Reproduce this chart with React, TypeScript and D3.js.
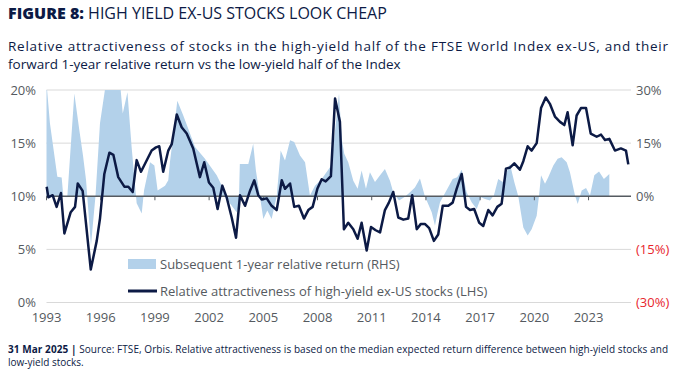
import * as d3 from 'd3';

const W = 678;
const H = 374;

// Relative attractiveness of high-yield ex-US stocks (LHS, %)
const attractYears = [
  1993.01, 1993.1, 1993.34, 1993.56, 1993.8, 1993.99, 1994.34, 1994.58, 1994.73, 1995.0,
  1995.45, 1995.78, 1995.96, 1996.2, 1996.48, 1996.7, 1996.97, 1997.31, 1997.53, 1997.77,
  1997.99, 1998.23, 1998.82, 1999.06, 1999.24, 1999.46, 1999.74, 1999.93, 2000.21, 2000.48,
  2000.76, 2001.12, 2001.49, 2001.73, 2001.99, 2002.23, 2002.47, 2002.73, 2002.97, 2003.25,
  2003.49, 2003.71, 2003.99, 2004.26, 2004.5, 2004.72, 2004.91, 2005.19, 2005.46, 2005.74,
  2006.02, 2006.2, 2006.48, 2006.71, 2006.97, 2007.25, 2007.49, 2007.73, 2007.99, 2008.23,
  2008.45, 2008.74, 2008.97, 2009.24, 2009.46, 2009.7, 2009.98, 2010.22, 2010.44, 2010.72,
  2010.96, 2011.22, 2011.46, 2011.73, 2011.95, 2012.19, 2012.47, 2012.75, 2013.02, 2013.24,
  2013.49, 2013.72, 2013.94, 2014.18, 2014.44, 2014.68, 2014.93, 2015.24, 2015.48, 2015.7,
  2015.98, 2016.22, 2016.44, 2016.67, 2016.95, 2017.17, 2017.45, 2017.69, 2017.95, 2018.19,
  2018.43, 2018.65, 2018.89, 2019.2, 2019.39, 2019.63, 2019.85, 2020.13, 2020.37, 2020.63,
  2020.86, 2021.14, 2021.42, 2021.66, 2021.84, 2022.12, 2022.34, 2022.58, 2022.86, 2023.12,
  2023.45, 2023.69, 2023.91, 2024.15, 2024.46, 2024.79, 2025.07, 2025.2,
];
const attractValues = [
  10.9, 9.9, 10.1, 9.0, 10.3, 6.5, 8.5, 9.0, 11.2, 10.5,
  3.1, 5.8, 7.9, 12.1, 14.1, 13.9, 11.8, 10.9, 10.9, 10.4,
  13.4, 12.3, 14.3, 14.6, 14.7, 12.3, 14.3, 14.9, 17.7, 16.5,
  15.9, 14.5, 11.8, 13.2, 11.3, 10.8, 8.8, 11.0, 9.9, 8.0,
  6.1, 10.1, 9.1, 10.5, 11.5, 10.1, 9.7, 9.8, 9.1, 8.7,
  11.5, 10.7, 11.2, 9.0, 9.1, 7.9, 8.7, 9.0, 10.7, 11.6,
  11.4, 11.9, 19.2, 17.0, 6.9, 7.5, 6.9, 6.0, 7.5, 4.9,
  7.1, 6.8, 6.6, 8.7, 9.4, 10.4, 8.0, 7.8, 7.9, 10.1,
  6.9, 7.4, 7.4, 7.0, 5.8, 6.4, 9.1, 9.1, 9.4, 10.7,
  12.1, 9.0, 8.7, 8.8, 7.5, 7.2, 8.7, 8.2, 9.0, 9.3,
  12.6, 12.7, 13.1, 12.5, 13.3, 14.7, 14.3, 15.0, 18.3, 19.3,
  18.7, 17.5, 17.0, 16.7, 17.9, 14.8, 17.6, 18.3, 18.3, 15.9,
  15.6, 15.8, 15.3, 15.4, 14.3, 14.5, 14.3, 13.0,
];

// Subsequent 1-year relative return (RHS, %)
const returnYears = [
  1993.0, 1993.19, 1993.6, 1993.84, 1993.93, 1994.15, 1994.54, 1994.82, 1995.02, 1995.19,
  1995.46, 1995.71, 1995.96, 1996.29, 1997.07, 1997.22, 1997.48, 1997.71, 1997.99, 1998.27,
  1998.4, 1998.73, 1998.97, 1999.15, 1999.56, 1999.74, 1999.83, 2000.07, 2000.24, 2000.57,
  2000.85, 2001.22, 2001.77, 2002.42, 2002.88, 2003.15, 2003.52, 2003.64, 2003.7, 2004.17,
  2004.44, 2004.59, 2004.81, 2005.0, 2005.22, 2005.46, 2005.74, 2005.96, 2006.2, 2006.48,
  2006.71, 2007.03, 2007.31, 2007.58, 2007.86, 2008.23, 2008.69, 2008.78, 2009.19, 2009.34,
  2009.48, 2009.7, 2009.98, 2010.22, 2010.44, 2010.68, 2010.9, 2011.18, 2011.46, 2011.73,
  2012.01, 2012.19, 2012.51, 2012.8, 2013.12, 2013.39, 2013.67, 2013.94, 2014.32, 2014.5,
  2014.63, 2014.78, 2014.96, 2015.48, 2015.73, 2015.98, 2016.25, 2016.53, 2016.81, 2017.05,
  2017.27, 2017.54, 2017.76, 2018.0, 2018.25, 2018.47, 2018.65, 2018.89, 2019.11, 2019.39,
  2019.63, 2019.85, 2020.13, 2020.26, 2020.37, 2020.59, 2020.77, 2021.05, 2021.29, 2021.51,
  2021.79, 2021.97, 2022.25, 2022.4, 2022.62, 2022.86, 2023.08, 2023.32, 2023.58, 2023.85,
  2024.15,
];
const returnValues = [
  32, 20.6, 5.5, 5.3, 0, -0.3, 29, 18.6, 11.5, 4.5,
  -14, 0, 20.6, 32, 32, 23.4, 29.4, 14, -2, -4.9,
  1.7, 9.6, 8.7, 1.6, 3, 4.5, 9.6, 19.5, 27, 22.8,
  19, 13.9, 10.6, 5.9, 1.1, -2, -4.5, -3, 9.1, 9.1,
  14.8, 7.3, 0, -6.4, -4, -6.4, 0, 12.9, 10.1, 15.8,
  15.3, 11.5, 9.6, 0.2, 3, 4.9, 8.2, 9.6, 29, 16.2,
  12, 9.6, 4.4, 2.1, 7.3, 2.1, 6.8, 4, 5.9, 7.7,
  4.4, 1.1, -1.2, -0.3, 1.1, 2.5, 5, 0, -4.5, -8.3,
  -5, -1.7, 0, 4.9, 5.4, 7.5, 1.1, -1.7, -3.6, -0.3,
  -0.8, -1.2, 0.2, 4.9, 4, 6.8, 9.1, 4, 0, -8.8,
  -11.1, -9.3, -5.5, 0.2, 5.9, 3.5, 5.4, 8.7, 10.6, 11,
  9.6, 6.8, 0.2, -2.2, 1.6, 2.3, 0.2, 5.9, 7, 4.9,
  6.3,
];

const tickYears = [1993, 1996, 1999, 2002, 2005, 2008, 2011, 2014, 2017, 2020, 2023];
const leftTicks = [0, 5, 10, 15, 20];
const rightTicks = [-30, -15, 0, 15, 30];

const NAVY = '#0c1a45';
const BLUE = '#b3d1ea';
const GREY = '#555a60';
const RED = '#e8262d';
const FONT = '"Open Sans", "Noto Sans", sans-serif';

export default function App() {
  const plotLeft = 46.5;
  const plotRight = 631;
  const top = 90;
  const bottom = 302.5;

  const x = d3.scaleLinear().domain([1993, 2025.2]).range([plotLeft, 628.3]);
  const yL = d3.scaleLinear().domain([0, 20]).range([bottom, top]);
  const yR = d3.scaleLinear().domain([-30, 30]).range([bottom, top]);

  const lineData = attractYears.map((t, i) => ({ t, v: attractValues[i] }));
  const areaData = returnYears.map((t, i) => ({ t, v: returnValues[i] }));

  const line = d3.line<{ t: number; v: number }>()
    .x(d => x(d.t))
    .y(d => yL(d.v));
  const area = d3.area<{ t: number; v: number }>()
    .x(d => x(d.t))
    .y0(yR(0))
    .y1(d => yR(d.v));

  const fmtRight = (v: number) => (v < 0 ? `(${Math.abs(v)}%)` : `${v}%`);

  return (
    <svg width={W} height={H} style={{ display: 'block', position: 'absolute', left: 0, top: 0 }}>
      <defs>
        <clipPath id="plotClip">
          <rect x={plotLeft - 2} y={top} width={plotRight - plotLeft + 4} height={bottom - top + 20} />
        </clipPath>
      </defs>
      <rect width={W} height={H} fill="#ffffff" />

      {/* Title */}
      <text x={8} y={19} fill={NAVY} fontFamily={FONT} fontSize={16}>
        <tspan fontWeight={800}>FIGURE 8:</tspan>
        <tspan fontWeight={500}> HIGH YIELD EX-US STOCKS LOOK CHEAP</tspan>
      </text>
      <text x={8} y={51} fill={NAVY} fontFamily={FONT} fontSize={13.5} textLength={660} lengthAdjust="spacing">
        Relative attractiveness of stocks in the high-yield half of the FTSE World Index ex-US, and their
      </text>
      <text x={8} y={69} fill={NAVY} fontFamily={FONT} fontSize={13.5}>
        forward 1-year relative return vs the low-yield half of the Index
      </text>

      {/* Grid */}
      {leftTicks.filter(v => v !== 10).map(v => (
        <line key={v} x1={plotLeft} x2={plotRight} y1={yL(v)} y2={yL(v)} stroke="#d9d9d9" strokeWidth={1} />
      ))}

      {/* Area */}
      <path d={area(areaData) ?? ''} fill={BLUE} clipPath="url(#plotClip)" />

      {/* Zero line with ticks */}
      <line x1={plotLeft} x2={plotRight} y1={yL(10)} y2={yL(10)} stroke={GREY} strokeWidth={1.3} />
      {tickYears.map(t => (
        <line key={t} x1={x(t)} x2={x(t)} y1={yL(10)} y2={yL(10) + 4} stroke={GREY} strokeWidth={1} />
      ))}

      {/* Line */}
      <path d={line(lineData) ?? ''} fill="none" stroke={NAVY} strokeWidth={2.5} strokeLinejoin="round" />

      {/* Left axis */}
      {leftTicks.map(v => (
        <text key={v} x={36} y={yL(v) + 4.5} textAnchor="end" fill={GREY} fontFamily={FONT} fontSize={13}>
          {v}%
        </text>
      ))}
      {/* Right axis */}
      {rightTicks.map(v => (
        <text key={v} x={636} y={yR(v) + 4.5} textAnchor="start" fill={v < 0 ? RED : GREY} fontFamily={FONT} fontSize={13}>
          {fmtRight(v)}
        </text>
      ))}
      {/* X axis labels */}
      {tickYears.map(t => (
        <text key={t} x={x(t)} y={322} textAnchor="middle" fill={GREY} fontFamily={FONT} fontSize={13}>
          {t}
        </text>
      ))}

      {/* Legend */}
      <rect x={128} y={259} width={28} height={10} fill={BLUE} />
      <text x={160} y={268.5} fill={GREY} fontFamily={FONT} fontSize={13}>
        Subsequent 1-year relative return (RHS)
      </text>
      <line x1={128} x2={157} y1={291} y2={291} stroke={NAVY} strokeWidth={3} />
      <text x={160} y={295.5} fill={GREY} fontFamily={FONT} fontSize={13}>
        Relative attractiveness of high-yield ex-US stocks (LHS)
      </text>

      {/* Footer */}
      <text x={8} y={353} fill={NAVY} fontFamily={FONT} fontSize={10} textLength={660} lengthAdjust="spacing">
        <tspan fontWeight={700}>31 Mar 2025 |</tspan>
        <tspan> Source: FTSE, Orbis. Relative attractiveness is based on the median expected return difference between high-yield stocks and</tspan>
      </text>
      <text x={8} y={366} fill={NAVY} fontFamily={FONT} fontSize={10}>
        low-yield stocks.
      </text>
    </svg>
  );
}
